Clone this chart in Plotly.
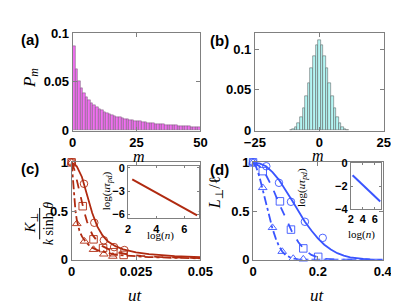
import plotly.graph_objects as go

W, H = 399, 304

# ---------------- data ----------------
# (a) distribution P_m, bars spanning [m, m+1]
pa_m = list(range(50))
pa_p = [0.087, 0.063, 0.051, 0.044, 0.038, 0.034, 0.031, 0.028, 0.026, 0.024,
        0.022, 0.0205, 0.019, 0.018, 0.017, 0.016, 0.015, 0.0142, 0.0135, 0.0128,
        0.0122, 0.0116, 0.011, 0.0105, 0.010, 0.0096, 0.0092, 0.0088, 0.0084, 0.008,
        0.0077, 0.0074, 0.0071, 0.0068, 0.0065, 0.0062, 0.006, 0.0057, 0.0055, 0.0053,
        0.0051, 0.0049, 0.0047, 0.0045, 0.0043, 0.0041, 0.004, 0.0038, 0.0037, 0.0035]

# (b) distribution P_m, bars centred on m
pb_m = list(range(-11, 12))
pb_p = [0.0008, 0.0015, 0.0043, 0.009, 0.0166, 0.028, 0.042, 0.059, 0.0767, 0.092,
        0.1058, 0.1116, 0.1058, 0.092, 0.0767, 0.059, 0.042, 0.028, 0.0166, 0.009,
        0.0043, 0.0015, 0.0008]

# (c) K_perp / (k sinh theta) vs ut
c_solid_t = [0, 0.002, 0.004, 0.006, 0.008, 0.010, 0.012, 0.014, 0.017, 0.020,
             0.025, 0.030, 0.035, 0.040, 0.045, 0.050]
c_solid_v = [1, 0.96, 0.85, 0.66, 0.48, 0.34, 0.25, 0.19, 0.14, 0.108,
             0.077, 0.058, 0.046, 0.038, 0.032, 0.027]
c_circ_t = [0, 0.0048, 0.0088, 0.0125, 0.0165, 0.0205]
c_circ_v = [1, 0.78, 0.38, 0.2, 0.13, 0.1]

c_dash_t = [0, 0.001, 0.002, 0.003, 0.004, 0.005, 0.006, 0.007, 0.008, 0.010,
            0.012, 0.015, 0.018, 0.022, 0.027, 0.033, 0.040, 0.050]
c_dash_v = [1, 0.93, 0.82, 0.70, 0.58, 0.48, 0.39, 0.32, 0.26, 0.19,
            0.14, 0.10, 0.075, 0.055, 0.04, 0.03, 0.022, 0.016]
c_sq_t = [0, 0.0043, 0.0085, 0.0122, 0.0162, 0.0202]
c_sq_v = [1, 0.55, 0.21, 0.12, 0.078, 0.05]

c_dd_t = [0, 0.0005, 0.001, 0.0015, 0.002, 0.003, 0.004, 0.005, 0.0065, 0.008,
          0.010, 0.013, 0.016, 0.020, 0.025, 0.030, 0.040, 0.050]
c_dd_v = [1, 0.8, 0.63, 0.5, 0.41, 0.3, 0.24, 0.2, 0.155, 0.125,
          0.1, 0.075, 0.058, 0.045, 0.035, 0.028, 0.02, 0.015]
c_tri_t = [0, 0.002, 0.005, 0.0085, 0.0125, 0.016]
c_tri_v = [1, 0.37, 0.19, 0.105, 0.058, 0.035]

c_in_logn = [2.3, 6.9]
c_in_logtau = [-1.5, -6.1]

# (d) L_perp / l vs ut
d_solid_t = [0, 0.02, 0.04, 0.06, 0.08, 0.10, 0.12, 0.14, 0.16, 0.18, 0.20,
             0.22, 0.24, 0.26, 0.28, 0.30, 0.32, 0.34, 0.36, 0.38, 0.40]
d_solid_v = [1, 0.99, 0.96, 0.9, 0.82, 0.72, 0.61, 0.5, 0.39, 0.3, 0.22,
             0.155, 0.105, 0.068, 0.042, 0.025, 0.014, 0.008, 0.004, 0.002, 0.001]
d_circ_t = [0, 0.041, 0.080, 0.117, 0.160, 0.215]
d_circ_v = [1, 0.96, 0.79, 0.595, 0.39, 0.225]

d_dash_t = [0, 0.02, 0.04, 0.06, 0.08, 0.10, 0.12, 0.14, 0.16, 0.18, 0.20,
            0.22, 0.25, 0.30, 0.35, 0.40]
d_dash_v = [1, 0.96, 0.87, 0.74, 0.58, 0.43, 0.29, 0.18, 0.1, 0.05, 0.024,
            0.01, 0.003, 0.001, 0, 0]
d_sq_t = [0, 0.03, 0.083, 0.117, 0.155, 0.201]
d_sq_v = [1, 0.91, 0.6, 0.31, 0.117, 0.03]

d_dd_t = [0, 0.01, 0.02, 0.03, 0.04, 0.05, 0.06, 0.07, 0.08, 0.09, 0.10,
          0.12, 0.14, 0.16, 0.20, 0.25, 0.30, 0.40]
d_dd_v = [1, 0.95, 0.85, 0.72, 0.57, 0.44, 0.32, 0.22, 0.14, 0.085, 0.05,
          0.015, 0.004, 0.001, 0, 0, 0, 0]
d_tri_t = [0, 0.03, 0.06, 0.09, 0.124, 0.155]
d_tri_v = [1, 0.74, 0.33, 0.085, 0.013, 0.007]

d_in_logn = [2.3, 6.9]
d_in_logtau = [-1.05, -3.35]

# ---------------- style ----------------
RED = "#b02a10"
BLUE = "#3a55ff"
MAG = "#f070f0"
CYAN = "#b4f6f4"
AX = "#808080"
TICKF = dict(family="Liberation Sans, Arial", size=13, color="black", weight="bold")
TICKF_S = dict(family="Liberation Sans, Arial", size=11, color="black", weight="bold")
SERIF = "Liberation Serif, DejaVu Serif, serif"


def px(x0, x1):
    return [x0 / W, x1 / W]


def py(y_top, y_bot):
    return [1 - y_bot / H, 1 - y_top / H]


fig = go.Figure()

# (a)
fig.add_trace(go.Bar(x=[m + 0.5 for m in pa_m], y=pa_p, width=1,
                     marker=dict(color=MAG, line=dict(color="#505050", width=0.4)),
                     xaxis="x", yaxis="y", showlegend=False))
# (b)
fig.add_trace(go.Bar(x=pb_m, y=pb_p, width=1,
                     marker=dict(color=CYAN, line=dict(color="#505050", width=0.5)),
                     xaxis="x2", yaxis="y2", showlegend=False))


def curves(xa, ya, col, specs):
    for (lt, lv, mt, mv, dash, sym) in specs:
        fig.add_trace(go.Scatter(x=lt, y=lv, mode="lines",
                                 line=dict(color=col, width=1.8, dash=dash),
                                 xaxis=xa, yaxis=ya, showlegend=False))
        fig.add_trace(go.Scatter(x=mt, y=mv, mode="markers",
                                 marker=dict(symbol=sym, size=7.5, color=col,
                                             line=dict(color=col, width=0.9)),
                                 xaxis=xa, yaxis=ya, showlegend=False, cliponaxis=False))


# (c)
curves("x3", "y3", RED, [
    (c_solid_t, c_solid_v, c_circ_t, c_circ_v, "solid", "circle-open"),
    (c_dash_t, c_dash_v, c_sq_t, c_sq_v, "dash", "square-open"),
    (c_dd_t, c_dd_v, c_tri_t, c_tri_v, "dashdot", "triangle-up-open"),
])
# (d)
curves("x4", "y4", BLUE, [
    (d_solid_t, d_solid_v, d_circ_t, d_circ_v, "solid", "circle-open"),
    (d_dash_t, d_dash_v, d_sq_t, d_sq_v, "dash", "square-open"),
    (d_dd_t, d_dd_v, d_tri_t, d_tri_v, "dashdot", "triangle-up-open"),
])
# insets
fig.add_trace(go.Scatter(x=c_in_logn, y=c_in_logtau, mode="lines",
                         line=dict(color=RED, width=2), xaxis="x5", yaxis="y5",
                         showlegend=False))
fig.add_trace(go.Scatter(x=d_in_logn, y=d_in_logtau, mode="lines",
                         line=dict(color=BLUE, width=2), xaxis="x6", yaxis="y6",
                         showlegend=False))


def axis(dom, rng, tickvals, ticktext=None, anchor=None, font=TICKF, ticklen=4):
    d = dict(domain=dom, range=rng, tickvals=tickvals, showgrid=False, zeroline=False,
             showline=True, linecolor=AX, linewidth=1, mirror="ticks", ticks="inside",
             tickcolor=AX, ticklen=ticklen, tickfont=font, fixedrange=True)
    if ticktext is not None:
        d["ticktext"] = ticktext
    if anchor:
        d["anchor"] = anchor
    return d


yA = py(19, 121.5)
yC = py(155, 257.5)
fig.update_layout(
    width=W, height=H, margin=dict(l=0, r=0, t=0, b=0),
    paper_bgcolor="white", plot_bgcolor="white", bargap=0,
    xaxis=axis(px(57, 193), [0, 50], [0, 25, 50], anchor="y"),
    yaxis=axis(yA, [0, 0.1], [0, 0.05, 0.1], ["0", "0.05", "0.1"], anchor="x"),
    xaxis2=axis(px(251, 388), [-25, 25], [-25, 0, 25], ["\u221225", "0", "25"], anchor="y2"),
    yaxis2=axis(yA, [0, 0.12], [0, 0.05, 0.1], ["0", "0.05", "0.1"], anchor="x2"),
    xaxis3=axis(px(56, 193), [0, 0.05], [0, 0.025, 0.05], ["0", "0.025", "0.05"], anchor="y3"),
    yaxis3=axis(yC, [0, 1], [0, 0.5, 1], ["0", "0.5", "1"], anchor="x3"),
    xaxis4=axis(px(249, 387), [0, 0.4], [0, 0.2, 0.4], ["0", "0.2", "0.4"], anchor="y4"),
    yaxis4=axis(yC, [0, 1], [0, 0.5, 1], ["0", "0.5", "1"], anchor="x4"),
    xaxis5=axis(px(116, 191), [2, 7], [2, 4, 6], anchor="y5", font=TICKF_S, ticklen=2),
    yaxis5=axis(py(159, 214), [-6.5, 0.2], [-6, -3, 0], ["\u22126", "\u22123", "0"],
                anchor="x5", font=TICKF_S, ticklen=2),
    xaxis6=axis(px(353, 385), [2, 7], [2, 4, 6], anchor="y6", font=TICKF_S, ticklen=2),
    yaxis6=axis(py(156, 204), [-4, 0], [-4, -2, 0], ["\u22124", "\u22122", "0"],
                anchor="x6", font=TICKF_S, ticklen=2),
)


def ann(text, x, y, size=13, family=SERIF, angle=0, bold=False):
    fig.add_annotation(text=text, x=x / W, y=1 - y / H, xref="paper", yref="paper",
                       showarrow=False, textangle=angle, xanchor="center", yanchor="middle",
                       borderpad=0,
                       font=dict(family=family, size=size, color="black",
                                 weight="bold" if bold else "normal"))


BOLD = "Liberation Sans, Arial"
ann("(a)", 12, 26, 15, BOLD, bold=True)
ann("(b)", 213, 27, 15, BOLD, bold=True)
ann("(c)", 12, 161, 15, BOLD, bold=True)
ann("(d)", 213, 163, 15, BOLD, bold=True)

ann("<i>P</i><sub><i>m</i></sub>", 12, 66, 17, angle=-90)
ann("<i>m</i>", 128, 149, 16)
ann("<i>m</i>", 318, 148, 16)
ann("<i>ut</i>", 124, 295, 17)
ann("<i>ut</i>", 318, 295, 17)

# (c) y label: fraction
ann("<i>K</i><sub>\u22a5</sub>", 13, 219, 15, angle=-90)
ann("<i>k</i> sinh <i>\u03b8</i>", 31, 219, 14, angle=-90)
fig.add_shape(type="line", xref="paper", yref="paper",
              x0=22 / W, x1=22 / W, y0=1 - 203 / H, y1=1 - 236 / H,
              line=dict(color="black", width=1))
# (d) y label
ann("<i>L</i><sub>\u22a5</sub>/\u2113", 209, 187, 16, angle=-90)

# inset labels
ann("log(<i>u\u03c4</i><sub><i>pd</i></sub>)", 93, 185, 11, angle=-90)
ann("log(<i>n</i>)", 151, 232, 11)
ann("log(<i>u\u03c4</i><sub><i>pd</i></sub>)", 301, 181, 11, angle=-90)
ann("log(<i>n</i>)", 364, 231, 11)

fig.write_html("out.html")
